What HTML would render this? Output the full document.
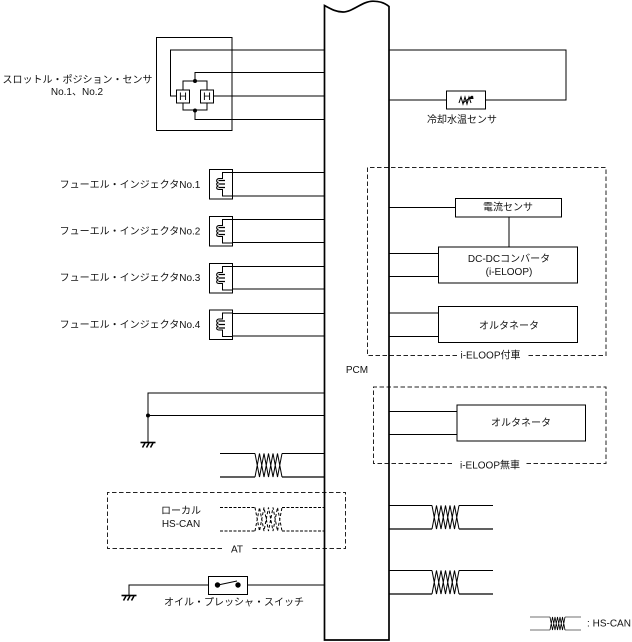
<!DOCTYPE html>
<html><head><meta charset="utf-8"><style>
html,body{margin:0;padding:0;background:#fff}
svg{display:block}
text{font-family:"Liberation Sans","Noto Sans CJK JP",sans-serif;font-size:10px;fill:#111;text-anchor:middle}
</style></head><body>
<svg width="632" height="642" viewBox="0 0 632 642" xmlns="http://www.w3.org/2000/svg">
<defs>
<g id="tw" fill="none" stroke="#000" stroke-width="1"><path d="M0 0L4.500 23.500L9 0L13.500 23.500L18 0L22.500 23.500L27 0M0 23.500L4.500 0L9 23.500L13.500 0L18 23.500L22.500 0L27 23.500"/></g>
<g id="inj" fill="none" stroke="#000" stroke-width="1">
<path d="M232 3.500H222.500V9.500H218.500M218.500 20.500H222.500V27H232"/>
<path d="M218.500 9.500C216 10.500 216 13 218.500 13.500M218.500 13.500C216 14 216 16.500 218.500 17M218.500 17C216 17.500 216 20 218.500 20.500"/>
<path d="M218.500 11.500H225M218.500 15H225M218.500 18.500H225" stroke-width="1.200"/>
<path d="M209.500 0.500H232.500V30H209.500Z"/>
</g>
<g id="gnd" fill="none" stroke="#000"><path d="M-7.500 0.500H7.500" stroke-width="1.600"/><path d="M-3 1L-5.500 5.500M1 1L-1.500 5.500M5 1L2.500 5.500" stroke-width="1.500"/></g>
</defs>

<g fill="none" stroke="#000" stroke-width="1">
<!-- throttle sensor -->
<rect x="156.500" y="37.500" width="75.500" height="93"/>
<path d="M324 50H170.500V96H176"/>
<path d="M324 72.500H195V81M324 119.500H195V110"/>
<path d="M213 96H324"/>
<path d="M183 90V81H207V90M183 103V110H207V103"/>
<rect x="176.500" y="90" width="13" height="13"/>
<rect x="200.500" y="90" width="13" height="13"/>

<!-- coolant -->
<path d="M389 50H566V100H389"/>
<rect x="446.500" y="91" width="39" height="18" fill="#fff"/>
<path d="M459 103L461 97L463 104L465 97L467 104L469 97L471 103"/>
<path d="M463 103L472 96"/>

<!-- injector wires -->
<path d="M232 172.500H324M232 196H324M232 219.500H324M232 242.500H324M232 266.500H324M232 289H324M232 313.500H324M232 336H324"/>

<!-- i-ELOOP equipped -->
<path d="M389 207.500H455.500M509 217V247M389 253.500H438.500M389 276.500H438.500M389 313H438.500M389 336.500H438.500"/>
<rect x="455.500" y="198.500" width="106" height="18.500"/>
<rect x="438.500" y="247" width="139" height="36"/>
<rect x="438.500" y="306.500" width="139" height="36"/>

<!-- i-ELOOP not equipped -->
<path d="M389 411.500H457M389 434.500H457"/>
<rect x="457" y="405" width="128.500" height="36"/>

<!-- ground -->
<path d="M324 393H148V442M148 415.500H324"/>
<path d="M129 596V585H208M247.500 585H324"/>
<rect x="208.500" y="576.500" width="39" height="18"/>
<path d="M218 585L237 581"/>

<!-- HS-CAN wires -->
<path d="M220 453.500H255M282 453.500H324"/>
<path d="M220 477H255M282 477H324" stroke-width="1.300"/>
<path d="M389 505.500H432M459 505.500H493M389 570.500H432M459 570.500H493"/>
<path d="M389 529H432M459 529H493M389 594H432M459 594H493" stroke-width="1.300"/>
<path d="M530 617H550M565 617H581M530 630H550M565 630H581" stroke-width="0.800" stroke="#444"/>

<!-- local CAN dashed -->
<path d="M220 507.500H255M282 507.500H324M220 531H255M282 531H324" stroke-dasharray="3 1.500"/>
<path d="M255 507.500L259.500 531L264 507.500L268.500 531L273 507.500L277.500 531L282 507.500M255 531L259.500 507.500L264 531L268.500 507.500L273 531L277.500 507.500L282 531" stroke-dasharray="3 2"/>

<!-- dashed boxes -->
<g stroke="#222" stroke-dasharray="4.500 2.500">
<path d="M457 355.500H367.500V167.500H606V355.500H526"/>
<path d="M452 463.500H373.500V387H606V463.500H526"/>
<path d="M222 548.500H107.500V492.500H345.500V548.500H251"/>
</g>
</g>

<use href="#inj" x="0" y="169"/>
<use href="#inj" x="0" y="216"/>
<use href="#inj" x="0" y="263"/>
<use href="#inj" x="0" y="309.500"/>

<use href="#tw" x="255" y="453.500"/>
<use href="#tw" x="432" y="505.500"/>
<use href="#tw" x="432" y="570.500"/>
<path d="M550 617L552.500 630L555 617L557.500 630L560 617L562.500 630L565 617M550 630L552.500 617L555 630L557.500 617L560 630L562.500 617L565 630" fill="none" stroke="#000" stroke-width="0.800"/>

<use href="#gnd" x="148" y="442"/>
<use href="#gnd" x="129" y="595"/>

<g fill="#000">
<circle cx="195" cy="81" r="2"/>
<circle cx="195" cy="110.500" r="2"/>
<circle cx="148" cy="415.500" r="2"/>
<circle cx="217.500" cy="585" r="2.700"/>
<circle cx="238" cy="585" r="2.700"/>
<path d="M469 99L473 95.500L473.500 99Z"/>
</g>

<!-- PCM column -->
<path d="M324.500 640V5.500C331 9 336 12 343 12C353 12 362 1.200 373 1.200C380 1.200 385 3 389 6.500V640Z" fill="none" stroke="#000" stroke-width="1.700"/>

<!-- labels -->
<text x="77.500" y="83">スロットル・ポジション・センサ</text>
<text x="77" y="95">No.1、No.2</text>
<text x="183" y="100" style="font-size:11px">H</text>
<text x="207" y="100" style="font-size:11px">H</text>
<text x="462" y="123">冷却水温センサ</text>
<text x="130" y="188">フューエル・インジェクタNo.1</text>
<text x="130" y="234.500">フューエル・インジェクタNo.2</text>
<text x="130" y="281">フューエル・インジェクタNo.3</text>
<text x="130" y="328">フューエル・インジェクタNo.4</text>
<text x="508" y="210.500">電流センサ</text>
<text x="509" y="262">DC-DCコンバータ</text>
<text x="509" y="275">(i-ELOOP)</text>
<text x="509" y="329">オルタネータ</text>
<text x="490.500" y="358.500">i-ELOOP付車</text>
<text x="357" y="373">PCM</text>
<text x="521" y="426">オルタネータ</text>
<text x="490" y="468.500">i-ELOOP無車</text>
<text x="181" y="514">ローカル</text>
<text x="181" y="527">HS-CAN</text>
<text x="237" y="552.500">AT</text>
<text x="234" y="605.500">オイル・プレッシャ・スイッチ</text>
<text x="609" y="626.500">: HS-CAN</text>
</svg>
</body></html>
